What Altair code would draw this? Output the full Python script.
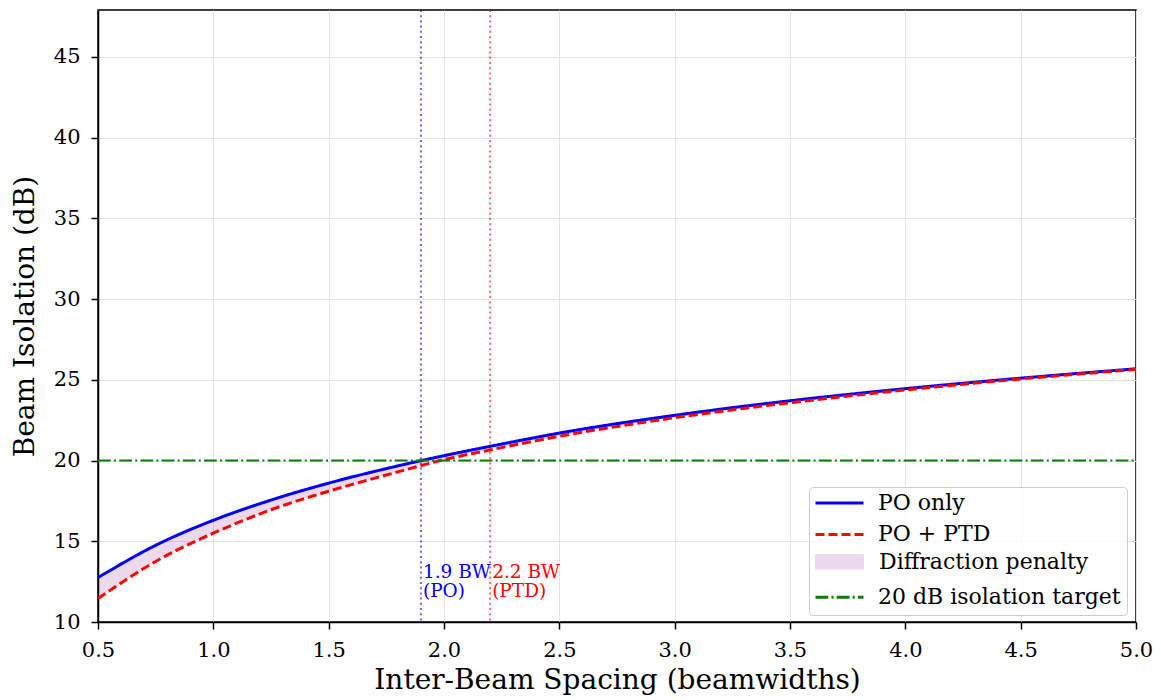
import altair as alt
import pandas as pd

# ---- data ----
spacing = [0.5, 0.75, 1.0, 1.25, 1.5, 1.75, 2.0, 2.25, 2.5, 3.0, 3.5, 4.0, 4.5, 5.0]
iso_po = [12.75, 14.75, 16.3, 17.55, 18.6, 19.5, 20.3, 21.02, 21.7, 22.8, 23.7, 24.45, 25.1, 25.68]
iso_ptd = [11.45, 13.75, 15.5, 16.95, 18.1, 19.1, 20.05, 20.8, 21.5, 22.65, 23.58, 24.37, 25.05, 25.64]

target_x = [0.5, 5.0]
target_y = [20.0, 20.0]

thresh_x = [1.9, 2.2]
thresh_colors = ["blue", "red"]
thresh_text = ["1.9 BW\n(PO)", "2.2 BW\n(PTD)"]
thresh_text_y = [12.75, 12.75]

series_names = ["PO only", "PO + PTD", "Diffraction penalty", "20 dB isolation target"]
series_colors = ["blue", "red", "transparent", "green"]
series_dash = [[1, 0], [9, 4], [1, 0], [12.8, 3.2, 2, 3.2]]
band_name = "Diffraction penalty"

x_ticks = [0.5, 1.0, 1.5, 2.0, 2.5, 3.0, 3.5, 4.0, 4.5, 5.0]
y_ticks = [10, 15, 20, 25, 30, 35, 40, 45]
x_domain = [0.5, 5.0]
y_domain = [10, 47.9]

FONT = "DejaVu Serif"

# ---- tables ----
po_df = pd.DataFrame({"spacing": spacing, "iso": iso_po, "series": series_names[0]})
ptd_df = pd.DataFrame({"spacing": spacing, "iso": iso_ptd, "series": series_names[1]})
band_df = pd.DataFrame({"spacing": spacing, "iso": iso_po, "iso2": iso_ptd, "band": band_name})
target_df = pd.DataFrame({"spacing": target_x, "iso": target_y, "series": series_names[3]})

xs = alt.Scale(domain=x_domain, nice=False, zero=False)
ys = alt.Scale(domain=y_domain, nice=False, zero=False)
x_axis = alt.Axis(values=x_ticks, format=".1f", title="Inter-Beam Spacing (beamwidths)")
y_axis = alt.Axis(values=y_ticks, format="d", title="Beam Isolation (dB)")

X = alt.X("spacing:Q", scale=xs, axis=x_axis)
Y = alt.Y("iso:Q", scale=ys, axis=y_axis)

legend = alt.Legend(
    title=None, orient="none", legendX=711, legendY=477, zindex=1,
    symbolType="stroke", symbolSize=2304, symbolStrokeWidth=3,
    clipHeight=20, rowPadding=9.4, padding=6, symbolOffset=-1, labelOffset=13,
    labelExpr="datum.label === 'Diffraction penalty' ? '' : datum.label",
    labelFont=FONT, labelFontSize=22, labelColor="black", labelLimit=500,
    fillColor="rgba(255,255,255,0.8)", strokeColor="#cccccc", cornerRadius=4,
)
band_legend = alt.Legend(
    title=None, orient="none", legendX=717, legendY=541.8, zindex=2,
    symbolType="M-1,-0.3H1V0.3H-1Z", symbolSize=2304,
    symbolStrokeColor="purple", symbolStrokeWidth=1,
    clipHeight=20, padding=0, symbolOffset=0, labelOffset=15,
    labelFont=FONT, labelFontSize=22, labelColor="black", labelLimit=500,
)
color = alt.Color("series:N", scale=alt.Scale(domain=series_names, range=series_colors), legend=legend)
dash = alt.StrokeDash("series:N", scale=alt.Scale(domain=series_names, range=series_dash), legend=legend)

band = alt.Chart(band_df).mark_area(opacity=0.15, interpolate="monotone").encode(
    x=X, y=Y, y2=alt.Y2("iso2:Q"),
    fill=alt.Fill("band:N", scale=alt.Scale(domain=[band_name], range=["purple"]), legend=band_legend),
)

def line_layer(df, w):
    return alt.Chart(df).mark_line(interpolate="monotone", strokeWidth=w).encode(
        x=X, y=Y, color=color, strokeDash=dash
    )

layers = [band]
for i in range(len(thresh_x)):
    tdf = pd.DataFrame({"spacing": [thresh_x[i]]})
    layers.append(
        alt.Chart(tdf).mark_rule(color=thresh_colors[i], strokeDash=[2, 3.2], strokeWidth=2, opacity=0.6)
        .encode(x=X)
    )
layers += [line_layer(po_df, 3), line_layer(ptd_df, 3), line_layer(target_df, 2)]
for i in range(len(thresh_x)):
    tdf = pd.DataFrame({"spacing": [thresh_x[i]], "iso": [thresh_text_y[i]], "label": [thresh_text[i]]})
    layers.append(
        alt.Chart(tdf).mark_text(
            align="left", baseline="alphabetic", dx=2, font=FONT, fontSize=18.5,
            lineBreak="\n", lineHeight=19, color=thresh_colors[i]
        ).encode(x=X, y=Y, text="label:N")
    )

chart = (
    alt.layer(*layers)
    .resolve_legend(color="shared", fill="independent")
    .properties(
        width=1038, height=612,
        autosize=alt.AutoSizeParams(type="none"),
        padding={"left": 90, "top": 2, "right": 17, "bottom": 76},
        background="white",
    )
    .configure_view(stroke="black", strokeWidth=1.5)
    .configure_axis(
        labelFont=FONT, labelFontSize=21, labelColor="black",
        titleFont=FONT, titleFontSize=28, titleFontWeight="normal", titleColor="black",
        tickSize=7, tickWidth=1.5, tickColor="black",
        domainColor="black", domainWidth=1.5,
        gridColor="#e3e3e3", gridWidth=1, labelFlush=False,
    )
    .configure_axisX(labelPadding=10, titlePadding=6)
    .configure_axisY(labelPadding=11, titlePadding=14)
)

chart.save("out.html", embed_options={"renderer": "svg", "actions": False})
